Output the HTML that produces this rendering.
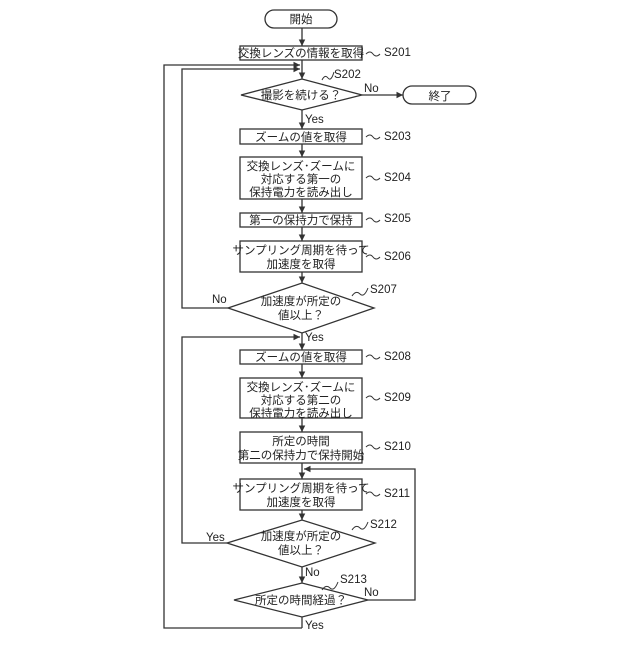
<!DOCTYPE html>
<html><head><meta charset="utf-8"><style>
html,body{margin:0;padding:0;background:#fff}
svg text{font-family:"Liberation Sans","Noto Sans CJK JP",sans-serif;fill:#222}
</style></head><body>
<svg width="640" height="640" viewBox="0 0 640 640" xmlns="http://www.w3.org/2000/svg">
<defs><marker id="a" markerWidth="6" markerHeight="6" refX="5" refY="3" orient="auto"><path d="M0,0.5 L5,3 L0,5.5" fill="#333"/></marker></defs>
<g stroke="#333" stroke-width="1.3" fill="none">
<!-- main vertical connectors -->
<line x1="302" y1="28" x2="302" y2="46" marker-end="url(#a)"/>
<line x1="302" y1="60" x2="302" y2="79" marker-end="url(#a)"/>
<line x1="302" y1="110" x2="302" y2="129" marker-end="url(#a)"/>
<line x1="302" y1="144" x2="302" y2="157" marker-end="url(#a)"/>
<line x1="302" y1="199" x2="302" y2="213" marker-end="url(#a)"/>
<line x1="302" y1="227" x2="302" y2="241" marker-end="url(#a)"/>
<line x1="302" y1="272" x2="302" y2="283" marker-end="url(#a)"/>
<line x1="302" y1="333" x2="302" y2="350" marker-end="url(#a)"/>
<line x1="302" y1="364" x2="302" y2="378" marker-end="url(#a)"/>
<line x1="302" y1="418" x2="302" y2="432" marker-end="url(#a)"/>
<line x1="302" y1="463" x2="302" y2="479" marker-end="url(#a)"/>
<line x1="302" y1="510" x2="302" y2="520" marker-end="url(#a)"/>
<line x1="302" y1="567" x2="302" y2="583" marker-end="url(#a)"/>
<line x1="302" y1="617" x2="302" y2="628"/>
<!-- loops -->
<polyline points="302,628 164,628 164,65 300,65" marker-end="url(#a)"/>
<polyline points="228,308 182,308 182,69 300,69" marker-end="url(#a)"/>
<polyline points="227,543 182,543 182,337 300,337" marker-end="url(#a)"/>
<polyline points="368,600 415,600 415,469 304,469" marker-end="url(#a)"/>
<line x1="362" y1="95" x2="403" y2="95" marker-end="url(#a)"/>
<!-- shapes -->
<rect x="265" y="10" width="72" height="18" rx="9"/>
<rect x="403" y="86" width="73" height="18" rx="9"/>
<rect x="240" y="46" width="122" height="14"/>
<polygon points="241,95 302,79 362,95 302,110"/>
<rect x="240" y="129" width="122" height="15"/>
<rect x="240" y="157" width="122" height="42"/>
<rect x="240" y="213" width="122" height="14"/>
<rect x="240" y="241" width="122" height="31"/>
<polygon points="228,308 302,283 374,308 302,333"/>
<rect x="240" y="350" width="122" height="14"/>
<rect x="240" y="378" width="122" height="40"/>
<rect x="240" y="432" width="122" height="31"/>
<rect x="240" y="479" width="122" height="31"/>
<polygon points="227,543 302,520 375,543 302,567"/>
<polygon points="234,600 302,583 368,600 302,617"/>
<!-- squiggles -->
<g stroke-width="1">
<path d="M366,54 q4,-4 7,0 t7,0"/>
<path d="M322,80 q3,-6 6,-2 t6,-6"/>
<path d="M366,137 q4,-4 7,0 t7,0"/>
<path d="M366,178 q4,-4 7,0 t7,0"/>
<path d="M366,220 q4,-4 7,0 t7,0"/>
<path d="M366,257 q4,-4 7,0 t7,0"/>
<path d="M352,296 q4,-6 8,-2 t8,-6"/>
<path d="M366,357 q4,-4 7,0 t7,0"/>
<path d="M366,398 q4,-4 7,0 t7,0"/>
<path d="M366,447 q4,-4 7,0 t7,0"/>
<path d="M366,494 q4,-4 7,0 t7,0"/>
<path d="M352,530 q4,-6 8,-2 t8,-6"/>
<path d="M322,590 q4,-6 8,-2 t8,-6"/>
</g>
</g>
<g font-size="11.5" text-anchor="middle">
<text x="301" y="23">開始</text>
<text x="440" y="100">終了</text>
<text x="301" y="57">交換レンズの情報を取得</text>
<text x="301" y="99">撮影を続ける？</text>
<text x="301" y="141">ズームの値を取得</text>
<text x="301" y="170">交換レンズ･ズームに</text>
<text x="301" y="183">対応する第一の</text>
<text x="301" y="196">保持電力を読み出し</text>
<text x="301" y="224">第一の保持力で保持</text>
<text x="301" y="254">サンプリング周期を待って</text>
<text x="301" y="268">加速度を取得</text>
<text x="301" y="305">加速度が所定の</text>
<text x="301" y="319">値以上？</text>
<text x="301" y="361">ズームの値を取得</text>
<text x="301" y="391">交換レンズ･ズームに</text>
<text x="301" y="404">対応する第二の</text>
<text x="301" y="417">保持電力を読み出し</text>
<text x="301" y="445">所定の時間</text>
<text x="301" y="459">第二の保持力で保持開始</text>
<text x="301" y="492">サンプリング周期を待って</text>
<text x="301" y="506">加速度を取得</text>
<text x="301" y="540">加速度が所定の</text>
<text x="301" y="554">値以上？</text>
<text x="301" y="604">所定の時間経過？</text>
</g>
<g font-size="11.5">
<text x="384" y="56">S201</text>
<text x="334" y="78">S202</text>
<text x="384" y="140">S203</text>
<text x="384" y="181">S204</text>
<text x="384" y="222">S205</text>
<text x="384" y="260">S206</text>
<text x="370" y="293">S207</text>
<text x="384" y="360">S208</text>
<text x="384" y="401">S209</text>
<text x="384" y="450">S210</text>
<text x="384" y="497">S211</text>
<text x="370" y="528">S212</text>
<text x="340" y="583">S213</text>
<text x="364" y="92">No</text>
<text x="305" y="123">Yes</text>
<text x="212" y="303">No</text>
<text x="305" y="341">Yes</text>
<text x="206" y="541">Yes</text>
<text x="305" y="576">No</text>
<text x="364" y="596">No</text>
<text x="305" y="629">Yes</text>
</g>
</svg>
</body></html>
